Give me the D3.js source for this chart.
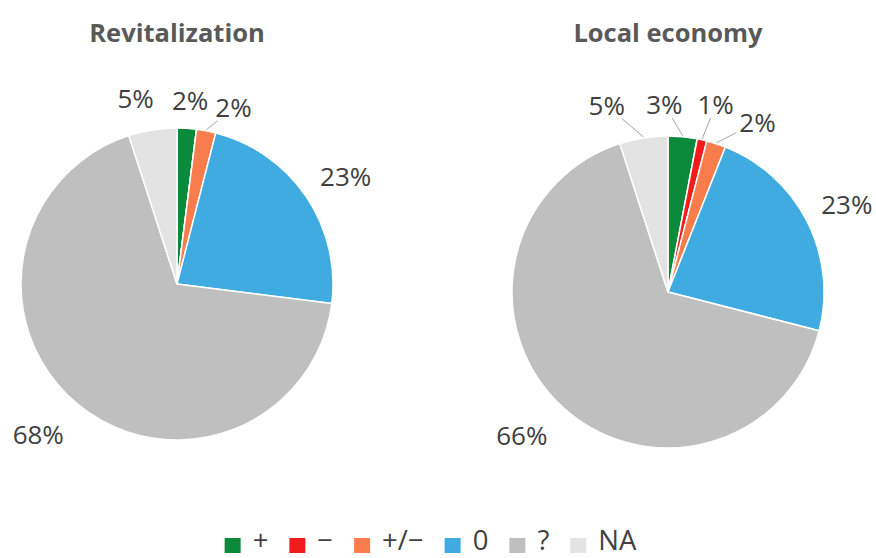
<!doctype html>
<html>
<head>
  <meta charset="utf-8">
  <script src="https://cdnjs.cloudflare.com/ajax/libs/d3/7.8.5/d3.min.js"></script>
  <style>
    html, body { margin: 0; padding: 0; background: #fff; }
    svg { display: block; }
    text { font-family: "Open Sans", "DejaVu Sans", sans-serif; }
  </style>
  <title>Revitalization / Local economy</title>
</head>
<body>
<svg width="876" height="558"></svg>
<script>
  // chart data
  const categories = ["+", "\u2212", "+/\u2212", "0", "?", "NA"];
  const colors = ["#0b8a3c", "#f21c1c", "#f97c4c", "#3fabe0", "#bfbfbf", "#e3e3e3"];
  const titles = ["Revitalization", "Local economy"];
  const revitalization = [2, 0, 2, 23, 68, 5];
  const localEconomy = [3, 1, 2, 23, 66, 5];

  const svg = d3.select("svg");
  const radius = 156;

  // where each pie sits and how its labels are nudged (degrees off centroid, distance, leader line)
  const charts = [
    { title: titles[0], values: revitalization, cx: 177, cy: 284,
      labels: [{ da: 0.5, r: 184 }, null, { da: 7, r: 185, leader: true },
               { da: 1.7, r: 200 }, { da: 3, r: 205 }, { da: -3.6, r: 190 }] },
    { title: titles[1], values: localEconomy, cx: 668, cy: 292,
      labels: [{ da: -6.5, r: 187, leader: true }, { da: 1.7, r: 193, leader: true },
               { da: 9.8, r: 192, leader: true }, { da: 1, r: 199 },
               { da: 2.3, r: 205 }, { da: -9.2, r: 196, leader: true }] }
  ];

  const pie = d3.pie().sort(null).value(d => d);
  const arc = d3.arc().innerRadius(0).outerRadius(radius);
  const rad = Math.PI / 180;
  const polar = (a, r) => [Math.sin(a) * r, -Math.cos(a) * r];

  charts.forEach(c => {
    const g = svg.append("g").attr("transform", `translate(${c.cx},${c.cy})`);

    svg.append("text")
      .attr("x", c.cx)
      .attr("y", 42)
      .attr("text-anchor", "middle")
      .style("font-size", "25.5px")
      .style("font-weight", "bold")
      .style("fill", "#595959")
      .text(c.title);

    const arcs = pie(c.values);

    g.selectAll("path")
      .data(arcs)
      .enter()
      .append("path")
      .attr("d", arc)
      .style("fill", (d, i) => colors[i])
      .style("stroke", "#fff")
      .style("stroke-width", 1.5)
      .style("stroke-linejoin", "round");

    arcs.forEach((d, i) => {
      const L = c.labels[i];
      if (!L || d.value === 0) return;
      const mid = (d.startAngle + d.endAngle) / 2;
      const p = polar(mid + L.da * rad, L.r);
      const t = g.append("text")
        .attr("x", p[0])
        .attr("y", p[1])
        .attr("dy", "0.36em")
        .attr("text-anchor", "middle")
        .style("font-size", "26px")
        .style("fill", "#404040")
        .text(d.value + "%");

      if (L.leader) {
        const bb = t.node().getBBox();
        const s = polar(mid, radius + 1);
        const hw = bb.width / 2 + 3, hh = 13;
        const vx = s[0] - p[0], vy = s[1] - p[1];
        const k = Math.min(Math.abs(hw / vx) || 1e9, Math.abs(hh / vy) || 1e9);
        g.insert("line", "text")
          .attr("x1", s[0]).attr("y1", s[1])
          .attr("x2", p[0] + vx * k).attr("y2", p[1] + vy * k)
          .style("stroke", "#a6a6a6")
          .style("stroke-width", 1);
      }
    });
  });

  // legend
  const legend = svg.append("g");
  let x = 0;
  categories.forEach((name, i) => {
    legend.append("rect")
      .attr("x", x).attr("y", 538)
      .attr("width", 16).attr("height", 15)
      .style("fill", colors[i]);
    const t = legend.append("text")
      .attr("x", x + 28)
      .attr("y", 550)
      .style("font-size", "27.5px")
      .style("fill", "#404040")
      .text(name);
    x += 28 + t.node().getComputedTextLength() + 21;
  });
  const total = x - 21;
  legend.attr("transform", `translate(${430.5 - total / 2},0)`);
</script>
</body>
</html>
